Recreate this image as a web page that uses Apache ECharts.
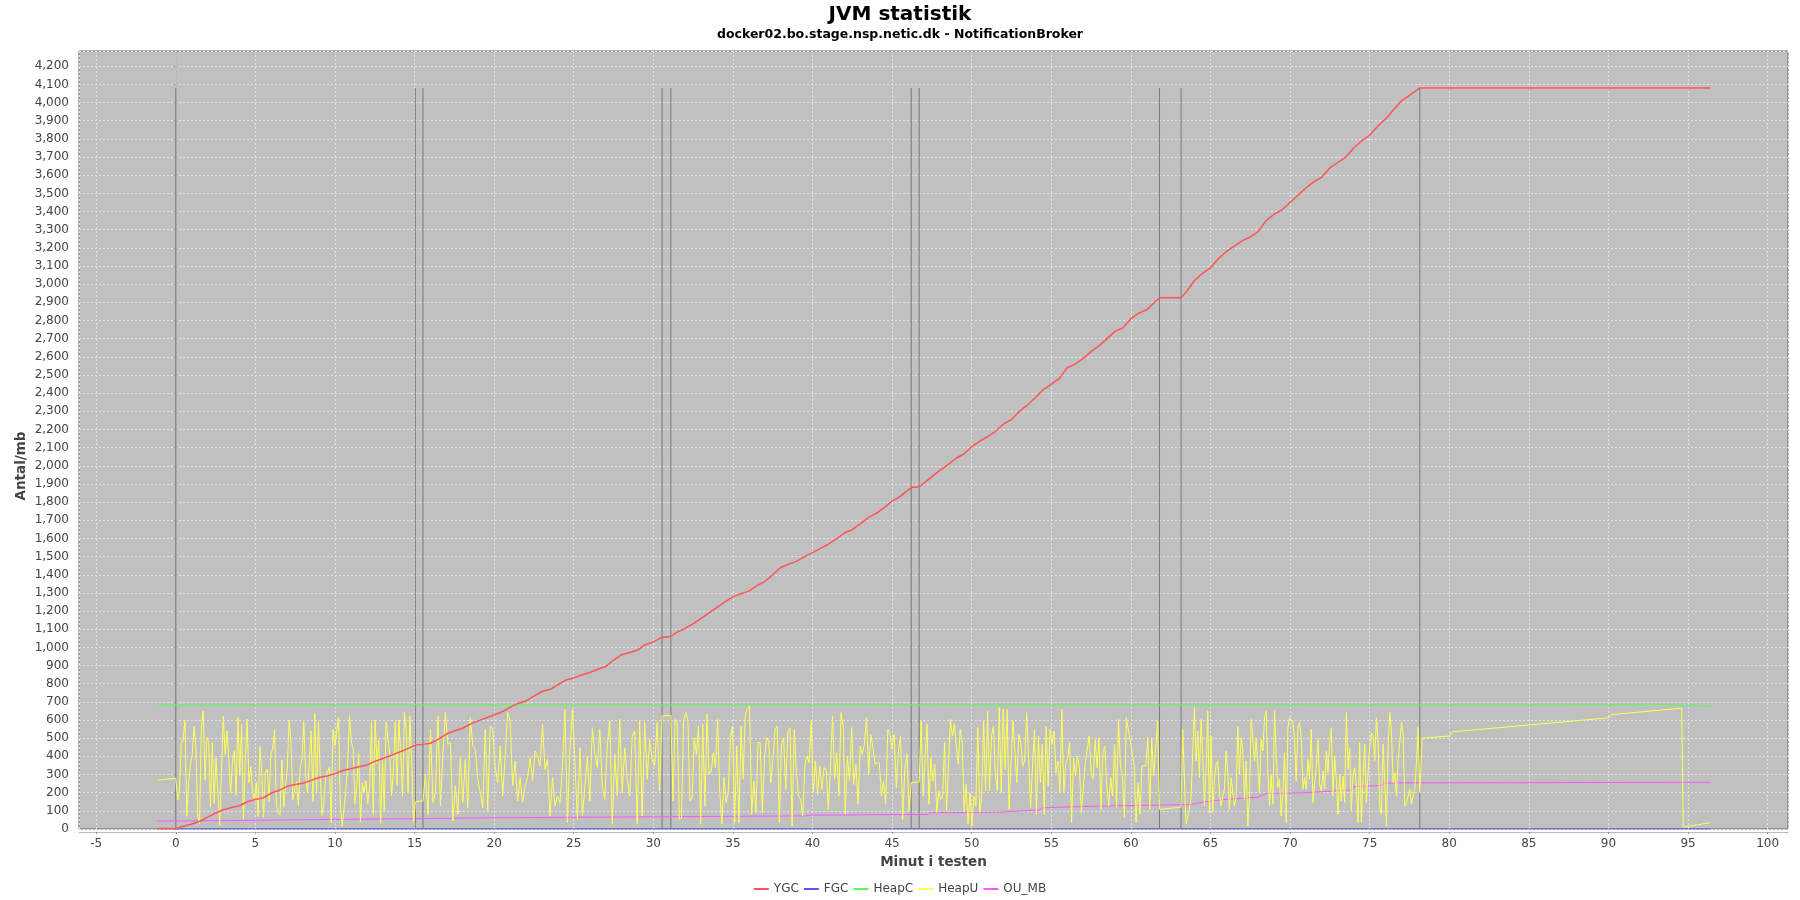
<!DOCTYPE html>
<html><head><meta charset="utf-8">
<script src="https://cdn.jsdelivr.net/npm/echarts@6/dist/echarts.min.js"></script>
<style>html,body{margin:0;padding:0;background:#fff}#c{width:1800px;height:900px}</style>
</head><body><div id="c"></div>
<script>
const chartTitle = 'JVM statistik';
const chartSubtitle = 'docker02.bo.stage.nsp.netic.dk - NotificationBroker';
const xAxisName = 'Minut i testen';
const yAxisName = 'Antal/mb';
const seriesNames = ['YGC', 'FGC', 'HeapC', 'HeapU', 'OU_MB'];
const seriesColors = ['#FF5555', '#5555FF', '#55FF55', '#FFFF55', '#FF55FF'];

const ygc = [[-1.2,3],[0,3],[0.5,15],[1,28],[1.5,42],[2,65],[2.5,88],[3,106],[3.5,118],[4,128],[4.5,150],[5,163],[5.5,172],[6,198],[6.5,213],[7,236],[7.5,245],[8,252],[8.5,268],[9,284],[9.5,292],[10,305],[10.5,322],[11,332],[11.5,343],[12,352],[12.5,372],[13,388],[13.5,405],[14,422],[14.5,440],[15.05,462],[15.53,466],[16,472],[16.5,495],[17,523],[17.5,540],[18,555],[18.7,586],[19.5,612],[20,628],[20.6,650],[21,670],[21.4,688],[22,705],[22.5,732],[23,757],[23.5,768],[24,795],[24.5,820],[25,832],[25.5,848],[26,862],[26.5,880],[27,895],[27.5,930],[28,960],[28.5,972],[29,985],[29.5,1015],[30,1030],[30.55,1055],[31.1,1060],[31.5,1085],[32,1105],[32.5,1130],[33,1160],[33.5,1190],[34,1220],[34.5,1250],[35,1278],[35.5,1295],[36,1310],[36.5,1340],[37,1362],[37.5,1400],[38,1440],[38.5,1458],[39,1475],[39.5,1500],[40,1522],[40.5,1545],[41,1568],[41.5,1598],[42,1630],[42.5,1648],[43,1680],[43.5,1715],[44,1738],[44.5,1770],[45,1805],[45.5,1830],[46.2,1880],[46.7,1885],[47,1905],[47.5,1940],[48,1975],[48.5,2005],[49,2040],[49.5,2065],[50,2105],[50.5,2135],[51,2160],[51.5,2190],[52,2230],[52.5,2255],[53,2300],[53.5,2335],[54,2375],[54.5,2420],[55,2450],[55.5,2480],[56,2540],[56.5,2560],[57,2590],[57.5,2630],[58,2660],[58.5,2700],[59,2740],[59.5,2760],[60,2810],[60.5,2840],[61,2860],[61.8,2925],[63.15,2925],[63.5,2960],[64,3020],[64.5,3060],[65,3090],[65.5,3140],[66,3180],[66.5,3210],[67,3240],[67.5,3260],[68,3290],[68.5,3350],[69,3385],[69.5,3410],[70,3450],[70.5,3490],[71,3530],[71.5,3565],[72,3590],[72.5,3640],[73,3670],[73.5,3700],[74,3750],[74.5,3790],[75,3820],[75.5,3870],[76,3910],[76.5,3960],[77,4010],[77.5,4040],[78.15,4080],[96.4,4080]];

const fgc = [[-1.2,0],[96.4,0]];

const heapC = [[-1.2,683],[0,683],[0.12,670],[0.25,683],[94.6,683],[94.7,676],[96.4,676]];

const heapUHead = [[-1.2,268]];
const heapUSpans = [[0,15.05],[15.53,30.55],[31.1,46.2],[46.7,61.8],[63.15,78.15]];
const heapUSeg1 = [280,160,210,470,490,600,70,250,350,410,565,450,70,30,560,650,270,505,480,120,480,140,390,400,20,15,620,410,540,380,200,370,435,185,615,295,575,55,370,605,255,345,200,160,260,70,455,320,65,315,330,150,415,440,550,130,90,75,380,120,130,340,600,480,160,220,260,130,340,380,590,300,200,195,540,150,635,200,590,300,75,150,290,300,340,35,550,460,540,615,120,15,15,210,375,625,480,440,140,240,415,40,255,200,265,140,230,590,80,600,360,490,30,380,100,590,600,410,185,320,590,240,600,410,180,641,549,200,622,365,35,150];
const heapUSeg2 = [155,301,81,549,145,200,623,127,420,641,467,476,44,237,81,393,145,384,118,613,457,439,274,200,118,549,99,567,549,338,255,457,182,402,641,595,237,375,154,283,145,237,283,393,264,430,402,347,577,329,384,72,283,127,182,145,338,659,35,439,659,365,53,448,72,228,402,154,558,420,338,549,237,163,457,595,26,411,182,604,200,448,274,182,512,540,26,595,72,586,274,494,384,347,586,209,623];
const heapUSeg3 = [625,154,604,586,53,62,595,641,604,154,173,503,411,567,26,577,127,632,301,320,420,338,604,200,26,283,145,200,503,567,35,457,35,567,274,632,659,678,81,264,90,476,476,90,384,503,485,255,384,549,567,35,467,503,219,540,558,17,549,320,182,163,72,347,402,365,595,200,375,191,347,219,338,329,108,329,623,274,420,182,641,567,81,402,264,558,245,356,136,457,411,467,613,301,521,448,356,365,365,182,264,136,549,521,439,521,228,430,512,53,329,411,99,255];
const heapUSeg4 = [258,595,182,182,577,136,393,264,356,90,209,163,182,476,99,99,604,512,577,457,356,549,476,99,246,26,200,17,182,127,558,90,182,595,209,650,209,512,567,301,209,669,200,659,329,659,108,365,595,420,255,521,476,347,375,641,402,118,347,549,81,512,255,467,81,567,237,549,467,540,310,375,200,659,200,356,393,476,35,393,292,402,338,90,90,365,375,512,310,274,494,338,503,108,420,457,237,127,283,182,467,118,604,347,292,62,613,604,485,494,347,35,255,81,347,356,347,503,108,494,292,283,595,108];
const heapUSeg5 = [120,549,540,26,26,108,173,173,669,375,540,283,604,411,127,320,650,90,512,90,274,356,375,200,127,182,219,430,310,108,283,274,127,173,567,301,503,430,163,375,17,182,604,503,375,503,494,200,494,430,613,650,310,127,301,136,650,402,228,274,72,191,420,35,558,613,623,586,485,264,558,586,494,219,283,219,384,274,549,145,255,347,494,246,209,320,219,430,310,467,558,182,402,274,81,301,154,292,145,641,329,448,99,292,338,237,35,476,35,283,467,145,310,457,531,512,375,613,485,127,81,467,264,17,457,641,549,255,310,182,375,476,586,521,127,145,182,219,136,182,228,365,560,200];
const heapUTail = [[78.3,500],[80.0,512],[80.2,535],[90.0,612],[90.2,630],[94.6,665],[94.7,10],[96.4,35]];

const ouMB = [[-1.2,44],[0.4,44],[0.5,54],[15,57],[20,62],[30,67],[35,70],[39.5,72],[40,76],[46,80],[47.2,81],[47.4,90],[51.5,92],[51.6,103],[54.3,105],[54.4,117],[56,121],[58.5,127],[60.5,130],[62,132],[63.8,135],[63.9,141],[64.3,145],[64.4,152],[65.2,155],[65.3,160],[65.8,162],[65.9,171],[68.0,175],[68.5,196],[71,200],[71.1,205],[72.3,207],[72.4,213],[73.9,215],[74.0,233],[75.0,237],[75.8,240],[75.9,252],[76.7,254],[76.8,257],[96.4,257]];

const gcEventX = [0, 15.05, 15.53, 30.55, 31.1, 46.2, 46.7, 61.8, 63.15, 78.15];
const gcEventTop = 4080;

function spread(span, vals) {
  const n = vals.length;
  return vals.map((v, i) => [span[0] + (span[1] - span[0]) * i / (n - 1), v]);
}
const heapUSegs = [heapUSeg1, heapUSeg2, heapUSeg3, heapUSeg4, heapUSeg5];
let heapU = heapUHead.slice();
heapUSegs.forEach((s, i) => { heapU = heapU.concat(spread(heapUSpans[i], s)); });
heapU = heapU.concat(heapUTail);

const eventData = [];
gcEventX.forEach(x => { eventData.push([x, 0], [x, gcEventTop], [x, '-']); });

const FONT = 'DejaVu Sans';
const chart = echarts.init(document.getElementById('c'), null, {renderer: 'canvas'});
const dataSets = [ygc, fgc, heapC, heapU, ouMB];
const zs = [7, 6, 5, 4, 3];
const series = seriesNames.map((name, i) => ({
  name, type: 'line', data: dataSets[i], showSymbol: false, symbol: 'none',
  z: zs[i], animation: false,
  lineStyle: {color: seriesColors[i], width: i === 0 ? 1.5 : 1},
  itemStyle: {color: seriesColors[i]}
}));
series.push({
  name: 'gcEvents', type: 'line', data: eventData, showSymbol: false, symbol: 'none',
  connectNulls: false, z: 2, animation: false, silent: true,
  lineStyle: {color: '#7a7a7a', width: 1}
});

chart.setOption({
  animation: false,
  backgroundColor: '#ffffff',
  title: [
    {text: chartTitle, left: 'center', top: 3, padding: 0,
     textStyle: {fontFamily: FONT, fontWeight: 'bold', fontSize: 20, color: '#000', lineHeight: 24}},
    {text: chartSubtitle, left: 'center', top: 28, padding: 0,
     textStyle: {fontFamily: FONT, fontWeight: 'bold', fontSize: 12.5, color: '#000', lineHeight: 14}}
  ],
  legend: {
    data: seriesNames, left: 'center', top: 878, icon: 'rect', itemWidth: 15, itemHeight: 2, itemGap: 5,
    textStyle: {fontFamily: FONT, fontSize: 12, color: '#444'}
  },
  graphic: [{
    type: 'text', x: 21, y: 466, rotation: Math.PI / 2, silent: true,
    style: {text: yAxisName, fontFamily: FONT, fontWeight: 'bold', fontSize: 13.5, fill: '#444',
            align: 'center', verticalAlign: 'middle', textAlign: 'center', textVerticalAlign: 'middle'}
  }],
  grid: {left: 79, right: 12, top: 51, bottom: 71, show: true, backgroundColor: '#c0c0c0',
         borderColor: '#666666', borderWidth: 1, containLabel: false},
  xAxis: {
    type: 'value', min: -6.08, max: 101.28, splitNumber: 21, minInterval: 5, maxInterval: 5,
    offset: 3,
    name: xAxisName, nameLocation: 'middle', nameGap: 23,
    nameTextStyle: {fontFamily: FONT, fontWeight: 'bold', fontSize: 13.5, color: '#444'},
    axisLine: {show: true, onZero: false, lineStyle: {color: '#bbbbbb'}},
    axisTick: {show: true, length: 2, lineStyle: {color: '#999999'}},
    axisLabel: {showMinLabel: false, showMaxLabel: false, margin: 6,
      fontFamily: FONT, fontSize: 12, color: '#444'},
    splitLine: {show: true, lineStyle: {color: '#e4e4e4', type: [2, 2], width: 1}}
  },
  yAxis: {
    type: 'value', min: 0, max: 4284, splitNumber: 42, minInterval: 100, maxInterval: 100,
    offset: 3,
    axisLine: {show: true, lineStyle: {color: '#bbbbbb'}},
    axisTick: {show: true, length: 2, lineStyle: {color: '#999999'}},
    axisLabel: {showMaxLabel: false, margin: 7, fontFamily: FONT, fontSize: 12, color: '#444',
      formatter: v => Math.round(v).toLocaleString('en-US')},
    splitLine: {show: true, lineStyle: {color: '#e4e4e4', type: [2, 2], width: 1}}
  },
  series
});
</script></body></html>
